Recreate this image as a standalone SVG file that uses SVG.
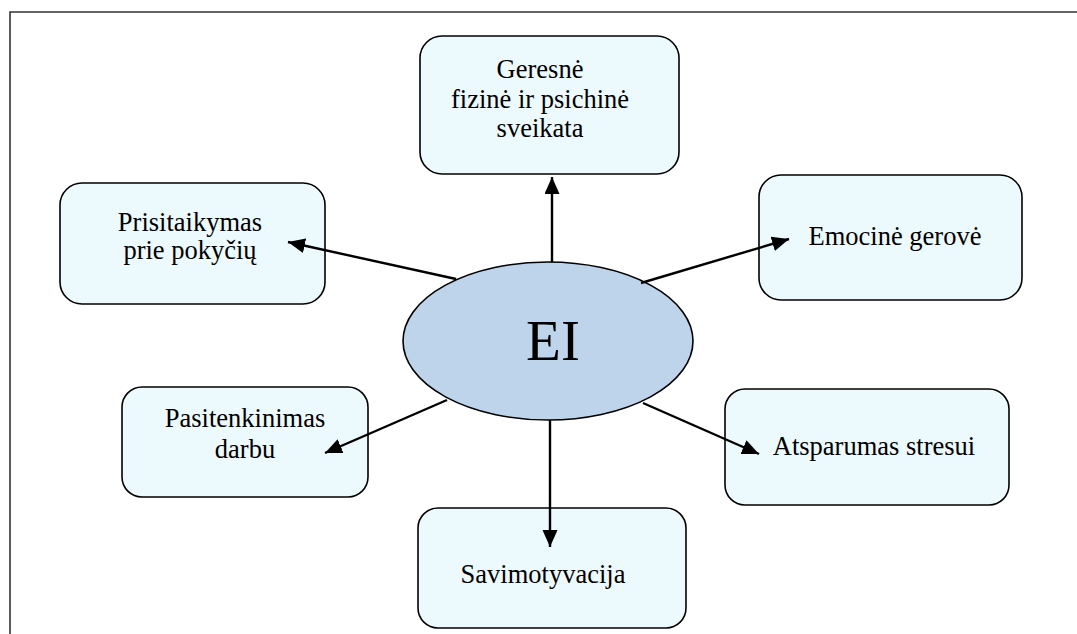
<svg xmlns="http://www.w3.org/2000/svg" width="1077" height="634" viewBox="0 0 1077 634">
<defs>
<style>
.box{fill:#ECF9FD;stroke:#000;stroke-width:1.6}
.ell{fill:#BED4EB;stroke:#000;stroke-width:1.6}
.t{font-family:'Liberation Serif','DejaVu Serif','Times New Roman',serif;font-size:26.5px;fill:#000;text-anchor:middle}
.ei{font-family:'Liberation Serif','DejaVu Serif','Times New Roman',serif;font-size:57px;fill:#000;text-anchor:middle}
.c{stroke:#000;stroke-width:2.4;fill:none;marker-end:url(#ah)}
.frame{stroke:#333;stroke-width:1.6;fill:none}
</style>
<marker id="ah" markerUnits="userSpaceOnUse" markerWidth="18" markerHeight="16" refX="17" refY="7.5" orient="auto">
<path d="M0,0 L17,7.5 L0,15 Z" fill="#000"/>
</marker>
</defs>
<rect width="1077" height="634" fill="#fff"/>
<path class="frame" d="M10,634 V12 H1077"/>
<g id="node-ei">
<ellipse class="ell" cx="548" cy="341" rx="145" ry="79"/>
<text class="ei" x="553" y="360">EI</text>
</g>
<g id="node-sveikata">
<rect class="box" x="420" y="36" width="259" height="138" rx="22"/>
<text class="t" x="540" y="78">Geresnė</text>
<text class="t" x="540" y="108">fizinė ir psichinė</text>
<text class="t" x="540" y="137">sveikata</text>
</g>
<g id="node-prisitaikymas">
<rect class="box" x="60" y="183" width="265" height="121" rx="22"/>
<text class="t" x="190" y="231">Prisitaikymas</text>
<text class="t" x="190" y="259">prie pokyčių</text>
</g>
<g id="node-emocine">
<rect class="box" x="759" y="175" width="263" height="125" rx="22"/>
<text class="t" x="895" y="245">Emocinė gerovė</text>
</g>
<g id="node-pasitenkinimas">
<rect class="box" x="122" y="387" width="246" height="110" rx="20"/>
<text class="t" x="245" y="427">Pasitenkinimas</text>
<text class="t" x="245" y="458">darbu</text>
</g>
<g id="node-atsparumas">
<rect class="box" x="725" y="389" width="284" height="116" rx="20"/>
<text class="t" x="874" y="455">Atsparumas stresui</text>
</g>
<g id="node-savimotyvacija">
<rect class="box" x="418" y="508" width="268" height="120" rx="20"/>
<text class="t" x="543" y="583">Savimotyvacija</text>
</g>
<g id="connectors">
<line class="c" x1="552" y1="262" x2="552" y2="177"/>
<line class="c" x1="456" y1="279" x2="288" y2="242"/>
<line class="c" x1="641" y1="283" x2="789" y2="239"/>
<line class="c" x1="447" y1="400" x2="325" y2="453"/>
<line class="c" x1="643" y1="403" x2="759" y2="454"/>
<line class="c" x1="550" y1="420" x2="550" y2="547"/>
</g>
</svg>
